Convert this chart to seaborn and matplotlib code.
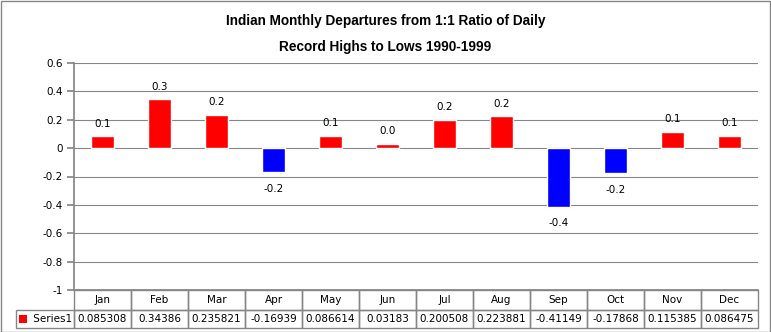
import matplotlib
matplotlib.use("Agg")
import matplotlib.pyplot as plt
import matplotlib.ticker as mtick
from matplotlib.table import Table
from matplotlib.patches import Rectangle
import seaborn as sns
import pandas as pd

MONTHS = ["Jan", "Feb", "Mar", "Apr", "May", "Jun",
          "Jul", "Aug", "Sep", "Oct", "Nov", "Dec"]
VALUES = [0.085308, 0.34386, 0.235821, -0.16939, 0.086614, 0.03183,
          0.200508, 0.223881, -0.41149, -0.17868, 0.115385, 0.086475]
TABLE_TEXT = ["0.085308", "0.34386", "0.235821", "-0.16939", "0.086614", "0.03183",
              "0.200508", "0.223881", "-0.41149", "-0.17868", "0.115385", "0.086475"]
SERIES_NAME = "Series1"
TITLE = "Indian Monthly Departures from 1:1 Ratio of Daily\nRecord Highs to Lows 1990-1999"

GRAY = "#868686"


def main():
    sns.set_theme(style="white")
    plt.rcParams["font.family"] = ["DejaVu Sans"]
    plt.rcParams["text.color"] = "black"
    plt.rcParams["ytick.color"] = "black"

    W, H = 771, 332
    AW, AH = 684, 227
    fig = plt.figure(figsize=(7.71, 3.32), dpi=100)
    ax = fig.add_axes([74 / W, 1 - 290 / H, AW / W, AH / H])

    df = pd.DataFrame({"month": MONTHS, "value": VALUES})
    colors = ["#ff0000" if v >= 0 else "#0000ff" for v in VALUES]
    sns.barplot(data=df, x="month", y="value", hue="month",
                palette=colors, legend=False, width=0.4, ax=ax,
                saturation=1, zorder=3)

    ax.set_ylim(-1, 0.6)
    ax.set_xlim(-0.5, 11.5)
    ax.yaxis.set_major_locator(mtick.MultipleLocator(0.2))
    ax.yaxis.set_major_formatter(
        mtick.FuncFormatter(lambda v, p: f"{round(v, 1):g}"))
    ax.grid(axis="y", color=GRAY, linewidth=0.8, zorder=0)
    ax.set_xlabel("")
    ax.set_ylabel("")
    ax.set_xticks([])
    for s in ["top", "right"]:
        ax.spines[s].set_visible(False)
    ax.spines["left"].set_color(GRAY)
    ax.spines["bottom"].set_color(GRAY)
    ax.tick_params(axis="y", left=True, length=5, color=GRAY,
                   labelcolor="black", labelsize=7.5, pad=3)

    # data labels
    for i, v in enumerate(VALUES):
        off = 9 if v >= 0 else -12
        ax.annotate(f"{v:.1f}", (i, v), xytext=(0, off),
                    textcoords="offset points", ha="center",
                    va="center", fontsize=7.5, color="black")

    # data table below the plot (widths in axes units so the bbox scale is 1)
    col_w = 1 / len(MONTHS)
    lab_w = 58 / AW
    h1, h2 = 20 / AH, 18 / AH
    tab = Table(ax, bbox=[0, -(h1 + h2), 1, h1 + h2])
    for j, m in enumerate(MONTHS):
        tab.add_cell(0, j, width=col_w, height=h1, text=m, loc="center")
        tab.add_cell(1, j, width=col_w, height=h2, text=TABLE_TEXT[j], loc="center")
    tab.add_cell(1, -1, width=lab_w, height=h2, text="     " + SERIES_NAME, loc="center")
    tab.auto_set_font_size(False)
    ax.add_table(tab)
    for c in tab.get_celld().values():
        c.set_edgecolor(GRAY)
        c.set_facecolor("none")
        c.PAD = 0.02
        c.get_text().set_fontsize(7.5)
        c.get_text().set_color("black")
    # legend key in the table
    fig.patches.append(Rectangle((19 / W, 1 - 323 / H), 8 / W, 8 / H,
                                 transform=fig.transFigure, facecolor="#ff0000",
                                 edgecolor="none"))

    fig.text(0.5, 1 - 34 / H, TITLE, ha="center", va="center",
             fontsize=9.8, fontweight="bold", linespacing=2.0,
             family=["Liberation Sans", "DejaVu Sans"])

    fig.patches.append(Rectangle((0.5 / W, 0.5 / H), 1 - 1.5 / W, 1 - 1.5 / H,
                                 transform=fig.transFigure, facecolor="none",
                                 edgecolor=GRAY, linewidth=1))

    fig.savefig("out.png", dpi=100)


if __name__ == "__main__":
    main()
